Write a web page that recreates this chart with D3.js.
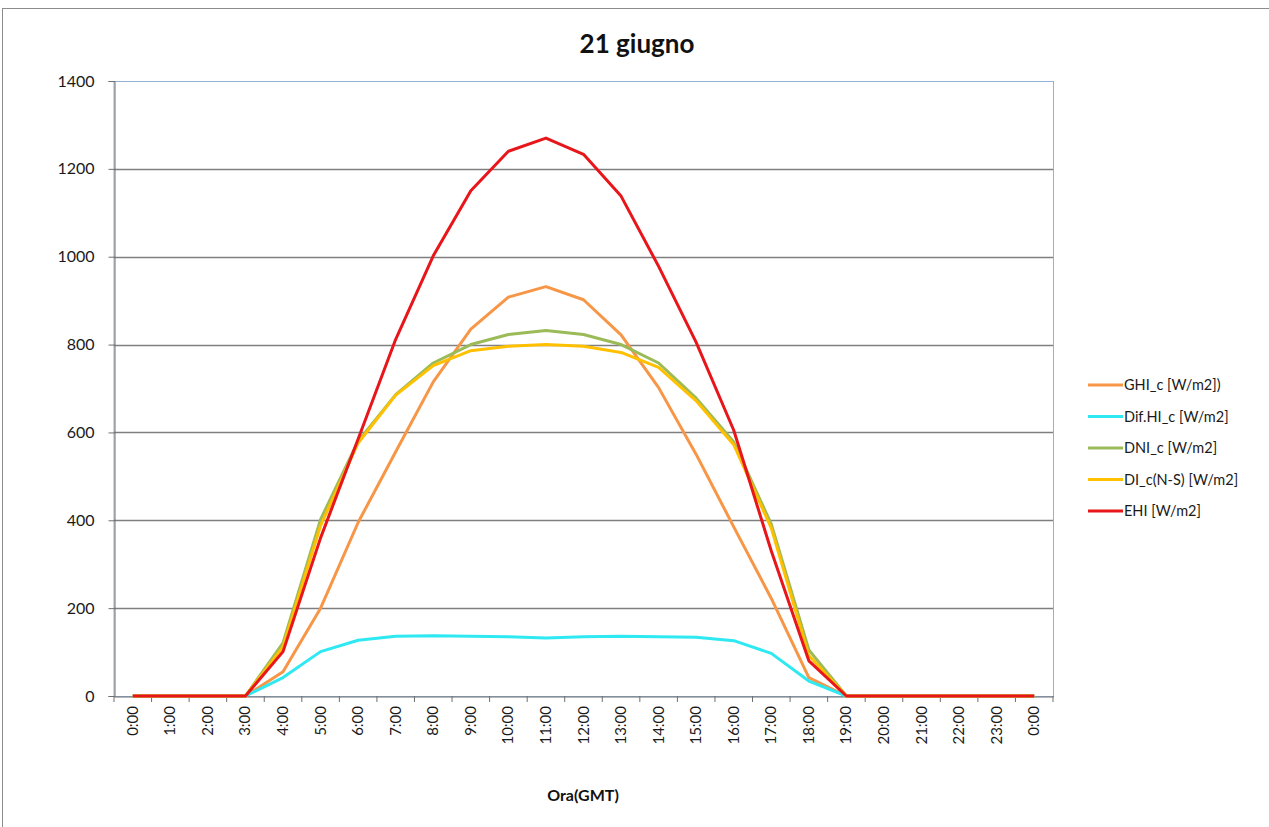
<!DOCTYPE html>
<html><head><meta charset="utf-8">
<script src="https://cdn.jsdelivr.net/npm/d3@7"></script>
<style>body{margin:0;background:#fff;}svg{display:block;font-family:Lato,"Open Sans",sans-serif;}</style>
</head><body><svg id="c" width="1269" height="827"></svg>
<script>
const hours = ["0:00","1:00","2:00","3:00","4:00","5:00","6:00","7:00","8:00","9:00","10:00","11:00","12:00","13:00","14:00","15:00","16:00","17:00","18:00","19:00","20:00","21:00","22:00","23:00","0:00"];
const ghi   = [0,0,0,0,55,200,395,556,715,835,908,932,902,822,702,550,385,222,42,0,0,0,0,0,0];
const difhi = [0,0,0,0,42,101,127,136,137,136,135,132,135,136,135,134,126,97,34,0,0,0,0,0,0];
const dni   = [0,0,0,0,121,402,580,686,758,800,823,832,823,800,758,678,578,391,105,0,0,0,0,0,0];
const dins  = [0,0,0,0,112,388,576,685,752,786,796,800,796,782,748,672,572,382,92,0,0,0,0,0,0];
const ehi   = [0,0,0,0,101,360,585,812,1002,1150,1240,1270,1233,1138,978,805,605,330,80,0,0,0,0,0,0];
const seriesNames = ["GHI_c [W/m2])","Dif.HI_c [W/m2]","DNI_c [W/m2]","DI_c(N-S) [W/m2]","EHI [W/m2]"];
const seriesColors = ["#F79646","#2EE8F2","#9BBB59","#FFC000","#E8161B"];
const yTicks = [0,200,400,600,800,1000,1200,1400];
const allSeries = [ghi,difhi,dni,dins,ehi];

const svg = d3.select("#c");
const L=114, R=1053, T=81, B=696;
svg.append("rect").attr("x",2.5).attr("y",8.5).attr("width",1280).attr("height",830).attr("fill","none").attr("stroke","#8c8c8c");

const idx = d3.range(hours.length);
const xb = d3.scaleBand().domain(idx).range([L,R]).padding(0);
const xc = i => xb(i)+xb.bandwidth()/2;
const y = d3.scaleLinear().domain([0,1400]).range([B,T]);

svg.append("rect").attr("x",L).attr("y",T+0.5).attr("width",R-L+0.5).attr("height",B-T).attr("fill","none").attr("stroke","#93b1d3").attr("stroke-width",1);
svg.append("g").selectAll("line").data(yTicks.filter(d=>d>0 && d<1400)).join("line")
  .attr("x1",L).attr("x2",R).attr("y1",d=>Math.round(y(d))+0.5).attr("y2",d=>Math.round(y(d))+0.5)
  .attr("stroke","#7f7f7f").attr("stroke-width",1.3);

const ya = svg.append("g").attr("transform",`translate(${L+0.5},0)`)
  .call(d3.axisLeft(y).tickValues(yTicks).tickSize(6).tickPadding(14).tickFormat(d3.format("d")));
ya.select(".domain").attr("stroke","#6f6f6f");
ya.selectAll(".tick line").attr("stroke","#6f6f6f");
ya.selectAll("text").attr("font-size",16).attr("fill","#1a1a1a").attr("font-family","Lato,sans-serif");

const xa = svg.append("g").attr("transform",`translate(0,${B+0.5})`)
  .call(d3.axisBottom(xb).tickValues([]).tickSizeOuter(0));
xa.select(".domain").attr("stroke","#6f6f6f");
svg.append("g").selectAll("line").data(d3.range(hours.length+1)).join("line")
  .attr("x1",i=>L+i*xb.bandwidth()).attr("x2",i=>L+i*xb.bandwidth())
  .attr("y1",B).attr("y2",B+6).attr("stroke","#6f6f6f");
svg.append("g").selectAll("text").data(idx).join("text")
  .attr("transform",i=>`translate(${xc(i)+5},${B+10}) rotate(-90)`)
  .attr("text-anchor","end").attr("font-size",15).attr("fill","#1a1a1a")
  .text(i=>hours[i]);

const line = d3.line().x((d,i)=>xc(i)).y(d=>y(d));
allSeries.forEach((s,k)=>{
  svg.append("path").datum(s).attr("d",line).attr("fill","none")
    .attr("stroke",seriesColors[k]).attr("stroke-width",3).attr("stroke-linejoin","round");
});

svg.append("text").attr("x",637).attr("y",53).attr("text-anchor","middle").attr("font-size",26).attr("font-weight","bold").attr("fill","#111").text("21 giugno");
svg.append("text").attr("x",583).attr("y",801).attr("text-anchor","middle").attr("font-size",16).attr("font-weight","bold").attr("fill","#111").text("Ora(GMT)");

const lg = svg.append("g");
seriesNames.forEach((n,k)=>{
  const yy = 385 + k*31.5;
  lg.append("line").attr("x1",1088).attr("x2",1123).attr("y1",yy).attr("y2",yy).attr("stroke",seriesColors[k]).attr("stroke-width",3);
  lg.append("text").attr("x",1124).attr("y",yy+5).attr("font-size",14.5).attr("fill","#1a1a1a").text(n);
});
</script></body></html>
